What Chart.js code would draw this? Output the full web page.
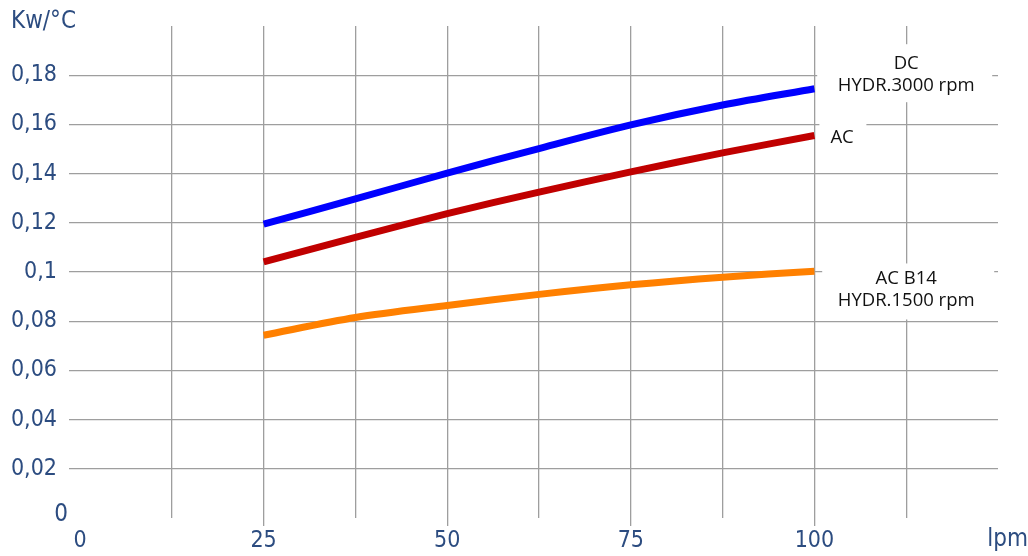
<!DOCTYPE html>
<html>
<head>
<meta charset="utf-8">
<script src="https://cdn.jsdelivr.net/npm/chart.js@4.4.1/dist/chart.umd.min.js"></script>
<style>
  html, body { margin: 0; padding: 0; background: #fff; }
  #wrap { width: 1028px; height: 556px; position: relative; }
</style>
</head>
<body>
<div id="wrap"><canvas id="chart" width="1028" height="556"></canvas></div>
<script>
// Data
const flow = [25, 37.5, 50, 62.5, 75, 87.5, 100];
const dcHydr3000 = [0.1195, 0.1297, 0.1402, 0.1502, 0.1598, 0.1679, 0.1745];
const acValues = [0.1041, 0.1141, 0.1237, 0.1325, 0.1407, 0.1484, 0.1555];
const acB14Hydr1500 = [0.0743, 0.0815, 0.0864, 0.0909, 0.0948, 0.0979, 0.1003];

const xTicks = [0, 12.5, 25, 37.5, 50, 62.5, 75, 87.5, 100, 112.5];
const xLabelTicks = [0, 25, 50, 75, 100];

// Series labels: lines of text + where they sit (x value, y value)
const seriesLabels = [
  { lines: ["DC", "HYDR.3000 rpm"], x: 112.5, y: 0.18, box: [-89, -31, 86, 27] },
  { lines: ["AC"], x: 100, y: 0.1545, box: [5, -20, 52, 18], align: "left" },
  { lines: ["AC B14", "HYDR.1500 rpm"], x: 112.5, y: 0.0929, box: [-84, -26, 88, 30] }
];

const tickColor = "#2c4c80";
const gridColor = "#9e9e9e";
const tickFont = { family: "'Liberation Sans Narrow', 'DejaVu Sans Condensed', sans-serif", size: 23 };

function toPoints(values) {
  return values.map((v, i) => ({ x: flow[i], y: v }));
}

const labelsPlugin = {
  id: "labels",
  beforeDatasetsDraw(chart) {
    const ctx = chart.ctx;
    const xs = chart.scales.x;
    const ys = chart.scales.y;
    ctx.save();
    seriesLabels.forEach(l => {
      const cx = xs.getPixelForValue(l.x);
      const cy = ys.getPixelForValue(l.y);
      ctx.fillStyle = "#fff";
      ctx.fillRect(cx + l.box[0], cy + l.box[1], l.box[2] - l.box[0], l.box[3] - l.box[1]);
      ctx.fillStyle = "#111";
      ctx.font = "18.5px 'Open Sans', sans-serif";
      ctx.textBaseline = "middle";
      ctx.textAlign = l.align === "left" ? "left" : "center";
      const tx = l.align === "left" ? cx + l.box[0] + 11 : cx;
      const n = l.lines.length;
      l.lines.forEach((t, i) => {
        ctx.fillText(t, tx, cy + (i - (n - 1) / 2) * 22);
      });
    });
    ctx.restore();
  },
  afterDraw(chart) {
    const ctx = chart.ctx;
    const ys = chart.scales.y;
    ctx.save();
    ctx.fillStyle = tickColor;
    ctx.font = "24px " + tickFont.family;
    ctx.textBaseline = "middle";
    ctx.textAlign = "left";
    ctx.fillText("Kw/°C", 11, 22);
    ctx.textAlign = "center";
    ctx.fillText("0", 61, ys.getPixelForValue(0) - 3);
    ctx.textAlign = "right";
    ctx.fillText("lpm", 1028, 540);
    ctx.restore();
  }
};

new Chart(document.getElementById("chart"), {
  type: "line",
  data: {
    datasets: [
      { label: "DC HYDR.3000 rpm", data: toPoints(dcHydr3000), borderColor: "#0000ff" },
      { label: "AC", data: toPoints(acValues), borderColor: "#c00000" },
      { label: "AC B14 HYDR.1500 rpm", data: toPoints(acB14Hydr1500), borderColor: "#ff8000" }
    ]
  },
  options: {
    responsive: false,
    animation: false,
    layout: { padding: { top: 26, right: 30, left: 0, bottom: 0 } },
    elements: {
      line: { borderWidth: 7, tension: 0.3, fill: false },
      point: { radius: 0 }
    },
    plugins: { legend: { display: false }, tooltip: { enabled: false } },
    scales: {
      x: {
        type: "linear",
        min: -1.5,
        max: 125,
        afterBuildTicks: s => { s.ticks = xTicks.map(v => ({ value: v })); },
        afterFit: s => { s.height = 38; },
        border: { display: false },
        grid: {
          color: c => (c.tick && c.tick.value === 0 ? "rgba(0,0,0,0)" : gridColor),
          tickColor: c => (c.tick && xLabelTicks.includes(c.tick.value) && c.tick.value !== 0 ? gridColor : "rgba(0,0,0,0)"),
          tickLength: 8,
          lineWidth: 1.3
        },
        ticks: {
          autoSkip: false,
          maxRotation: 0,
          padding: 1,
          color: tickColor,
          font: tickFont,
          callback: v => (xLabelTicks.includes(v) ? String(v) : "")
        }
      },
      y: {
        min: 0,
        max: 0.2,
        afterFit: s => { s.width = 69; },
        border: { display: false },
        grid: {
          drawTicks: false,
          color: c => (c.tick && (c.tick.value < 0.01 || c.tick.value > 0.19) ? "rgba(0,0,0,0)" : gridColor),
          lineWidth: 1.3
        },
        ticks: {
          stepSize: 0.02,
          padding: 12,
          color: tickColor,
          font: tickFont,
          callback: v => {
            if (v < 0.001 || v > 0.199) return "";
            return parseFloat(v.toFixed(2)).toString().replace(".", ",");
          }
        }
      }
    }
  },
  plugins: [labelsPlugin]
});
</script>
</body>
</html>
